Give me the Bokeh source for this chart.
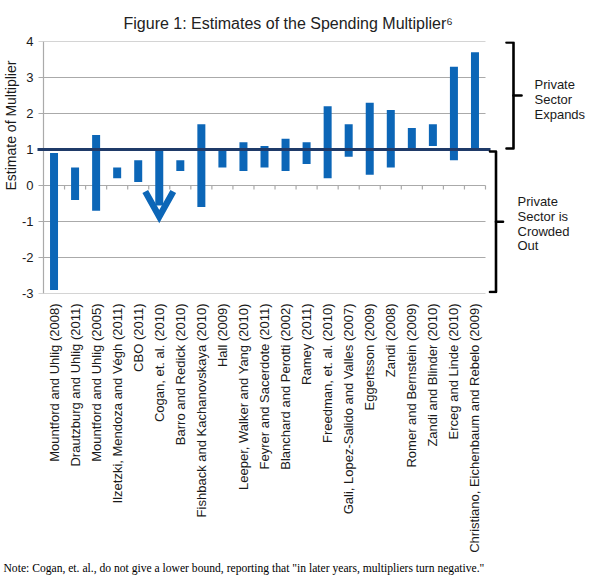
import math
from bokeh.plotting import figure
from bokeh.models import Range1d, FixedTicker, ColumnDataSource, Title
from bokeh.core.properties import value
from bokeh.embed import file_html
from bokeh.resources import INLINE

# ---------------- data ----------------
studies = [
    "Mountford and Uhlig (2008)",
    "Drautzburg and Uhlig (2011)",
    "Mountford and Uhlig (2005)",
    "Ilzetzki, Mendoza and Végh (2011)",
    "CBO (2011)",
    "Cogan, et. al. (2010)",
    "Barro and Redick (2010)",
    "Fishback and Kachanovskaya (2010)",
    "Hall (2009)",
    "Leeper, Walker and Yang (2010)",
    "Feyrer and Sacerdote (2011)",
    "Blanchard and Perotti (2002)",
    "Ramey (2011)",
    "Freedman, et. al. (2010)",
    "Gali, Lopez-Salido and Valles (2007)",
    "Eggertsson (2009)",
    "Zandi (2008)",
    "Romer and Bernstein (2009)",
    "Zandi and Blinder (2010)",
    "Erceg and Linde (2010)",
    "Christiano, Eichenbaum and Rebelo (2009)",
]
upper = [0.9, 0.5, 1.4, 0.5, 0.7, 1.0, 0.7, 1.7, 1.0, 1.2, 1.1, 1.3,
         1.2, 2.2, 1.7, 2.3, 2.1, 1.6, 1.7, 3.3, 3.7]
lower = [-2.9, -0.4, -0.7, 0.2, 0.1, None, 0.4, -0.6, 0.5, 0.4, 0.5, 0.4,
         0.6, 0.2, 0.8, 0.3, 0.5, 1.0, 1.1, 0.7, 1.0]
# Cogan et al. give no lower bound: arrow drawn down to this value
cogan_arrow_to = -1.0
threshold = 1.0
y_ticks = [-3, -2, -1, 0, 1, 2, 3, 4]
y_tick_labels = ["-3", "-2", "-1", "0", "1", "2", "3", "4"]

title_text = "Figure 1: Estimates of the Spending Multiplier\u2076"
y_title = "Estimate of Multiplier"
upper_note = ["Private", "Sector", "Expands"]
lower_note = ["Private", "Sector is", "Crowded", "Out"]
note_text = 'Note: Cogan, et. al., do not give a lower bound, reporting that  "in later years, multipliers turn negative."'

# ---------------- layout ----------------
n = len(studies)
W, H = 590, 580
FRAME_L, FRAME_R, FRAME_T, FRAME_B = 36, 590, 41, 293
AX_L = 43                      # pixel where data x = 0
PX = 442.0 / n                 # pixels per category
PY = (FRAME_B - FRAME_T) / (max(y_ticks) - min(y_ticks))

def dx(px):
    return (px - AX_L) / PX

def dy(py):
    return max(y_ticks) - (py - FRAME_T) / PY

x_start = dx(FRAME_L)
x_end = dx(FRAME_R)

p = figure(width=W, height=H,
           x_range=Range1d(x_start, x_end),
           y_range=Range1d(min(y_ticks), max(y_ticks)),
           output_backend="svg", toolbar_location=None,
           min_border_left=FRAME_L, min_border_right=W - FRAME_R,
           min_border_top=FRAME_T, min_border_bottom=H - FRAME_B)
p.outline_line_color = None
p.xgrid.visible = False
p.ygrid.visible = False
p.background_fill_color = "white"
p.border_fill_color = "white"

GRID = "#aaaaaa"
BAR = "#0c66b7"
NAVY = "#1f3a68"
TXT = "#1a1a1a"
FONT = "Liberation Sans"

# gridlines (with outer tick stubs) and vertical axis line
grid_y = [t for t in y_ticks if t != threshold]
p.segment(x0=[dx(38)] * len(grid_y), x1=[n] * len(grid_y), y0=grid_y, y1=grid_y,
          line_color=GRID, line_width=1.2)
p.segment(x0=[dx(38)], x1=[0], y0=[threshold], y1=[threshold], line_color=GRID, line_width=1.2)
p.segment(x0=[0], x1=[0], y0=[min(y_ticks)], y1=[max(y_ticks)], line_color=GRID, line_width=1.2)
# category ticks on the zero line
bx = list(range(1, n + 1))
p.segment(x0=bx, x1=bx, y0=[0] * len(bx), y1=[-4.0 / PY] * len(bx),
          line_color=GRID, line_width=1.2)

# range bars
xs = [i + 0.5 for i in range(n)]
bar_w = 8.0 / PX
tops, bottoms = [], []
for i in range(n):
    tops.append(upper[i])
    if lower[i] is None:
        bottoms.append(cogan_arrow_to + 16.0 / PY)
    else:
        bottoms.append(lower[i])
src = ColumnDataSource(dict(x=xs, top=tops, bottom=bottoms))
p.vbar(x="x", top="top", bottom="bottom", width=bar_w, source=src,
       fill_color=BAR, line_color=None)

# arrow head for the study without a lower bound
for i in range(n):
    if lower[i] is None:
        cx = xs[i]
        tip = cogan_arrow_to + 5.0 / PY
        arm_y = tip + 25.0 / PY
        arm_dx = 14.0 / PX
        p.line(x=[cx - arm_dx, cx, cx + arm_dx], y=[arm_y, tip, arm_y],
               line_color=BAR, line_width=6.5, line_join="miter")

# threshold line at 1
p.segment(x0=[dx(37)], x1=[dx(490)], y0=[threshold], y1=[threshold],
          line_color=NAVY, line_width=3)

# brackets
def bracket(xv, yt, yb, hook, nub):
    ym = (yt + yb) / 2
    return ([xv - hook, xv, xv, xv - hook], [yt, yt, yb, yb]), ([xv, xv + nub], [ym, ym])

ub = bracket(dx(513), max(y_ticks) - 1.0 / PY, threshold + 1.0 / PY, 7.0 / PX, 8.0 / PX)
lb = bracket(dx(495.5), threshold - 2.0 / PY, min(y_ticks) + 1.5 / PY, 6.0 / PX, 7.0 / PX)
mx, my = [], []
for b in (ub, lb):
    for seg in b:
        mx.append(seg[0]); my.append(seg[1])
p.multi_line(xs=mx, ys=my, line_color="black", line_width=2.6, line_join="round", line_cap="round")

# bracket texts
up_y = [dy(83.5), dy(98.5), dy(113.5)]
p.text(x=[dx(534)] * len(upper_note), y=up_y, text=upper_note,
       text_font=value(FONT), text_font_size="13px", text_color=TXT,
       text_baseline="middle", text_align="left")
lo_y = [dy(200.5), dy(215.5), dy(230.5), dy(245)]
p.text(x=[dx(517)] * len(lower_note), y=lo_y, text=lower_note,
       text_font=value(FONT), text_font_size="13px", text_color=TXT,
       text_baseline="middle", text_align="left")

# axes
p.yaxis.ticker = FixedTicker(ticks=y_ticks)
p.yaxis.major_label_overrides = {t: s for t, s in zip(y_ticks, y_tick_labels)}
p.yaxis.axis_line_color = None
p.yaxis.major_tick_line_color = None
p.yaxis.minor_tick_line_color = None
p.yaxis.major_tick_out = 0
p.yaxis.major_tick_in = 0
p.yaxis.major_label_standoff = 3
p.yaxis.major_label_text_font = FONT
p.yaxis.major_label_text_font_size = "13px"
p.yaxis.major_label_text_color = TXT

p.xaxis.ticker = FixedTicker(ticks=xs)
p.xaxis.major_label_overrides = {x: s for x, s in zip(xs, studies)}
p.xaxis.major_label_orientation = math.pi / 2
p.xaxis.axis_line_color = None
p.xaxis.major_tick_line_color = None
p.xaxis.minor_tick_line_color = None
p.xaxis.major_tick_out = 0
p.xaxis.major_tick_in = 0
p.xaxis.major_label_standoff = 10
p.xaxis.major_label_text_font = FONT
p.xaxis.major_label_text_font_size = "13px"
p.xaxis.major_label_text_color = TXT

# title, axis title, note as side-panel titles
p.add_layout(Title(text=title_text, align="left", offset=123 - FRAME_L,
                   text_font=FONT, text_font_size="16px", text_font_style="normal",
                   text_color="#222222", standoff=19), "above")
p.add_layout(Title(text=y_title, align="left", offset=FRAME_B - 190,
                   text_font=FONT, text_font_size="14px", text_font_style="normal",
                   text_color=TXT, standoff=0), "left")
p.add_layout(Title(text=note_text, align="left", offset=3 - FRAME_L,
                   text_font="Liberation Serif", text_font_size="11.6px",
                   text_font_style="normal", text_color="black", standoff=8), "below")

open("out.html", "w").write(file_html(p, INLINE))
